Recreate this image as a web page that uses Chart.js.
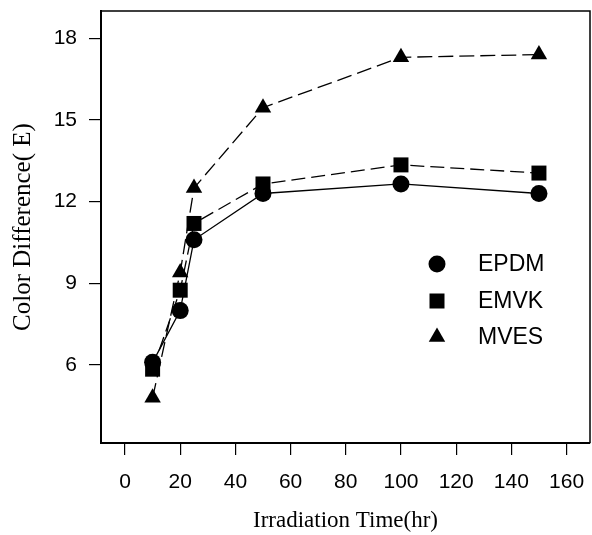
<!DOCTYPE html>
<html>
<head>
<meta charset="utf-8">
<script src="https://cdn.jsdelivr.net/npm/chart.js@4/dist/chart.umd.min.js"></script>
<style>
html,body{margin:0;padding:0;background:#fff;}
#wrap{width:592px;height:535px;position:relative;}
</style>
</head>
<body>
<div id="wrap"><canvas id="c" width="592" height="535"></canvas></div>
<script>
const times = [10, 20, 25, 50, 100, 150];
const seriesNames = ['EPDM', 'EMVK', 'MVES'];
const epdm = [6.1, 8.0, 10.6, 12.3, 12.65, 12.3];
const emvk = [5.85, 8.75, 11.2, 12.65, 13.35, 13.05];
const mves = [4.8, 9.4, 12.5, 15.45, 17.3, 17.4];
const xTicks = [0, 20, 40, 60, 80, 100, 120, 140, 160];
const yTicks = [6, 9, 12, 15, 18];

const toPts = arr => arr.map((v, i) => ({x: times[i], y: v}));
const styles = [
  {pointStyle: 'circle', pointRadius: 8.5, borderDash: []},
  {pointStyle: 'rect', pointRadius: 10.6, borderDash: [14, 6]},
  {pointStyle: 'triangle', pointRadius: 9.5, borderDash: [15, 6]}
];
const values = [epdm, emvk, mves];
const datasets = seriesNames.map((n, i) => ({
  label: n,
  data: toPts(values[i]),
  borderColor: '#000',
  backgroundColor: '#000',
  pointBackgroundColor: '#000',
  pointBorderColor: '#000',
  pointBorderWidth: 0,
  borderWidth: 1.3,
  tension: 0,
  pointStyle: styles[i].pointStyle,
  pointRadius: styles[i].pointRadius,
  pointHoverRadius: styles[i].pointRadius,
  borderDash: styles[i].borderDash
}));

const framePlugin = {
  id: 'frame',
  afterDraw(chart) {
    const {ctx, chartArea: a} = chart;
    ctx.save();
    ctx.strokeStyle = '#000';
    ctx.lineWidth = 1.5;
    ctx.beginPath();
    ctx.moveTo(a.left, a.top);
    ctx.lineTo(a.right, a.top);
    ctx.lineTo(a.right, a.bottom);
    ctx.stroke();
    // legend
    const rows = [264, 301, 337];
    const mx = 437, tx = 478;
    ctx.fillStyle = '#000';
    ctx.font = '23px "Liberation Sans", Arial, sans-serif';
    ctx.textBaseline = 'middle';
    ctx.textAlign = 'left';
    seriesNames.forEach((n, i) => {
      const y = rows[i];
      ctx.beginPath();
      if (i === 0) {
        ctx.arc(mx, y, 8.5, 0, Math.PI * 2);
      } else if (i === 1) {
        ctx.rect(mx - 7.5, y - 7.5, 15, 15);
      } else {
        const r = 9.5;
        ctx.moveTo(mx, y - r);
        ctx.lineTo(mx + r * Math.sin(2 * Math.PI / 3), y + r * 0.5);
        ctx.lineTo(mx - r * Math.sin(2 * Math.PI / 3), y + r * 0.5);
        ctx.closePath();
      }
      ctx.fill();
      ctx.fillText(n, tx, y + 1);
    });
    ctx.restore();
  }
};

const zeroPad = s => { s.paddingTop = 0; s.paddingBottom = 0; s.paddingLeft = 0; s.paddingRight = 0; };

new Chart(document.getElementById('c'), {
  type: 'line',
  data: {datasets},
  options: {
    responsive: false,
    animation: false,
    devicePixelRatio: 1,
    layout: {autoPadding: false, padding: {top: 11, right: 2, left: 0, bottom: 0}},
    plugins: {legend: {display: false}, tooltip: {enabled: false}},
    scales: {
      x: {
        type: 'linear',
        min: -8.7,
        max: 168.5,
        afterBuildTicks: s => { s.ticks = xTicks.map(v => ({value: v})); },
        afterFit: s => { s.height = 92; zeroPad(s); },
        grid: {drawOnChartArea: false, drawTicks: true, tickLength: 12, color: '#000', lineWidth: 1.2},
        border: {color: '#000', width: 2},
        ticks: {color: '#000', padding: 0, maxRotation: 0, font: {family: '"Liberation Sans", Arial, sans-serif', size: 21, lineHeight: 2.57}},
        title: {display: true, text: 'Irradiation Time(hr)', color: '#000', padding: {top: 0, bottom: 0},
          font: {family: '"Liberation Serif", "Times New Roman", serif', size: 23}}
      },
      y: {
        type: 'linear',
        min: 3.14,
        max: 19,
        afterBuildTicks: s => { s.ticks = yTicks.map(v => ({value: v})); },
        afterFit: s => { s.width = 101; zeroPad(s); },
        grid: {drawOnChartArea: false, drawTicks: true, tickLength: 12, color: '#000', lineWidth: 1.2},
        border: {color: '#000', width: 2},
        ticks: {color: '#000', padding: 12, font: {family: '"Liberation Sans", Arial, sans-serif', size: 21}},
        title: {display: true, text: 'Color Difference( E)', color: '#000', padding: {top: 8, bottom: 0},
          font: {family: '"Liberation Serif", "Times New Roman", serif', size: 25}}
      }
    }
  },
  plugins: [framePlugin]
});
</script>
</body>
</html>
